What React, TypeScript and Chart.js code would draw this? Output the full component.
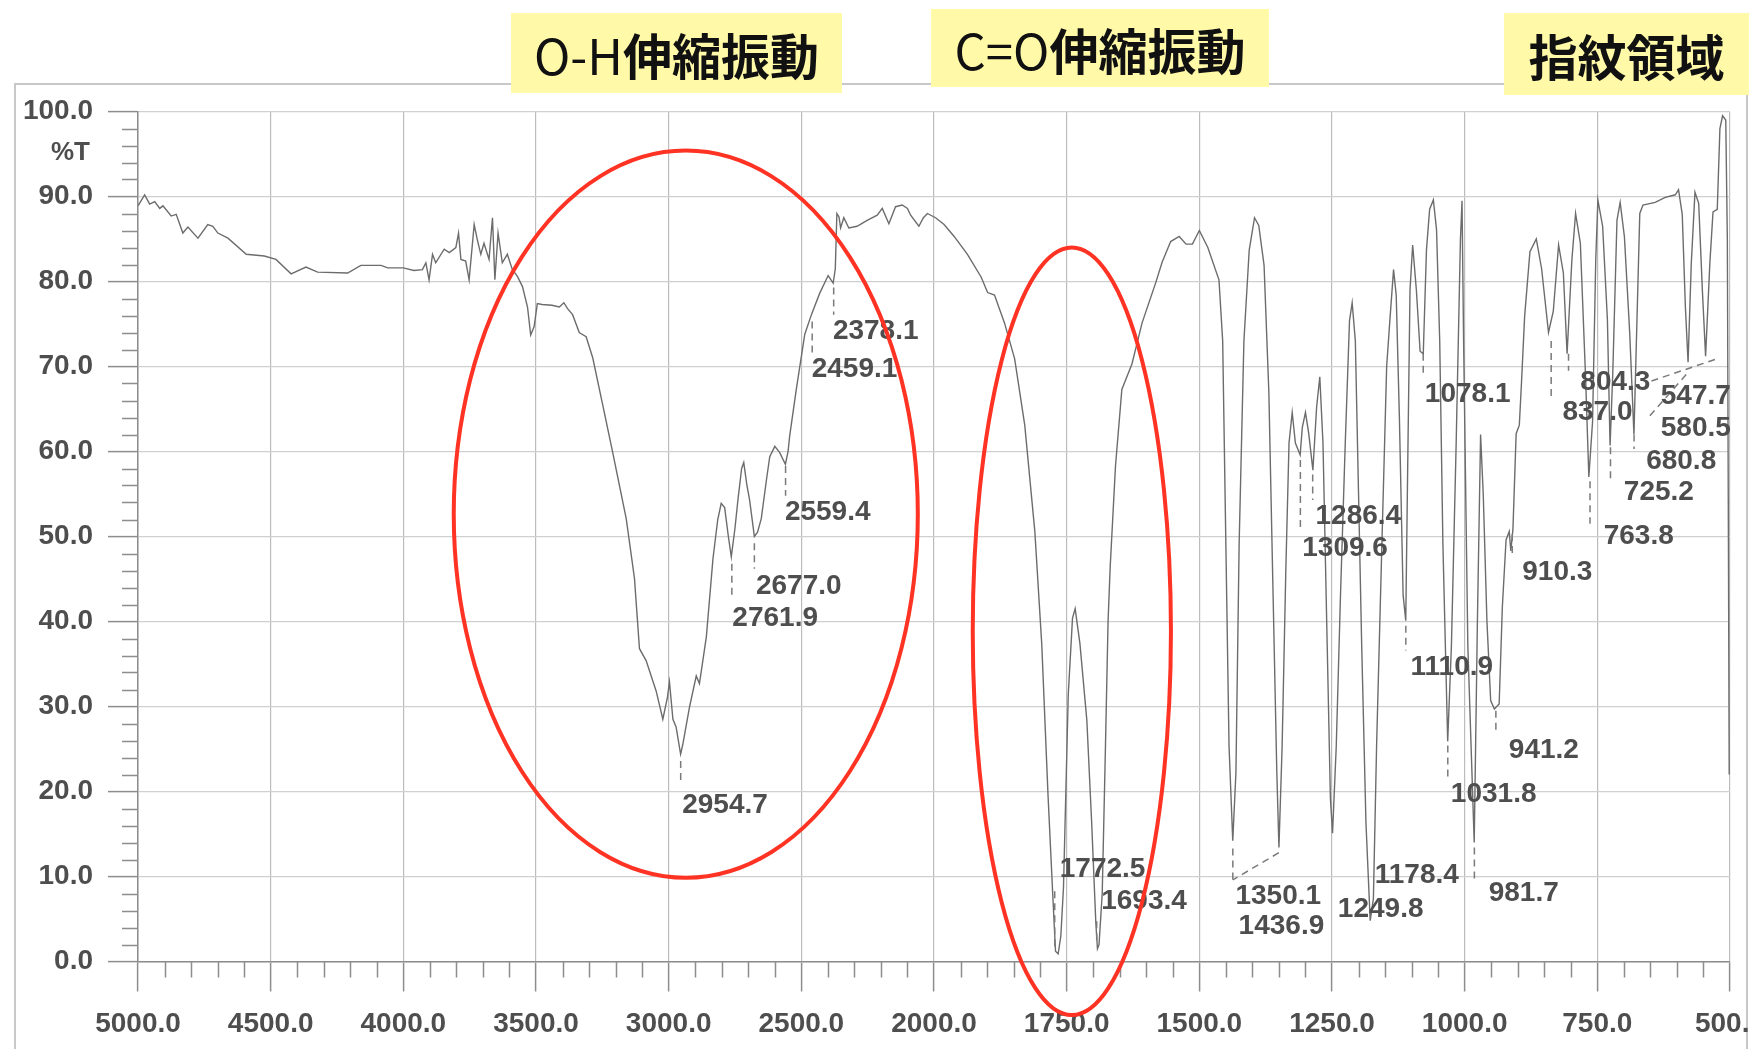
import React, { useEffect, useRef } from 'react';
import { Chart, LinearScale, registerables } from 'chart.js';

// ---------- data ----------
const wavenumbers = [
  5000, 4975, 4956, 4937, 4918, 4906, 4875, 4856, 4831, 4812, 4774, 4737, 4718, 4699, 4661, 4592, 4524, 4480, 4423, 4367,
  4323, 4210, 4160, 4084, 4059, 4000, 3960, 3928, 3915, 3903, 3890, 3878, 3846, 3827, 3802, 3792, 3783, 3765, 3752, 3733,
  3721, 3708, 3696, 3677, 3664, 3655, 3643, 3627, 3608, 3589, 3570, 3551, 3532, 3520, 3507, 3495, 3477, 3440, 3412, 3395,
  3381, 3362, 3337, 3311, 3286, 3248, 3211, 3160, 3129, 3110, 3085, 3047, 3022, 3005, 2997, 2984, 2972, 2955, 2947, 2921,
  2896, 2884, 2858, 2833, 2815, 2802, 2789, 2775, 2764, 2750, 2739, 2725, 2717, 2705, 2695, 2677, 2665, 2651, 2630, 2619,
  2600, 2582, 2560, 2550, 2544, 2519, 2487, 2462, 2431, 2399, 2380, 2372, 2366, 2358, 2352, 2340, 2321, 2290, 2252, 2214,
  2195, 2170, 2145, 2120, 2100, 2088, 2057, 2040, 2025, 1997, 1981, 1962, 1937, 1911, 1899, 1886, 1867, 1848, 1829, 1810,
  1797, 1785, 1775, 1771, 1766, 1761, 1756, 1747, 1739, 1734, 1725, 1712, 1703, 1695, 1692, 1689, 1683, 1677, 1672, 1668,
  1658, 1646, 1627, 1608, 1582, 1570, 1554, 1538, 1525, 1513, 1500, 1484, 1463, 1456, 1450, 1444, 1437, 1431, 1425, 1416,
  1406, 1396, 1388, 1378, 1369, 1361, 1354, 1350, 1344, 1337, 1331, 1325, 1319, 1310, 1306, 1300, 1294, 1286, 1279, 1273,
  1267, 1259, 1253, 1249, 1242, 1234, 1225, 1217, 1212, 1206, 1200, 1194, 1186, 1178, 1172, 1166, 1156, 1147, 1141, 1134,
  1129, 1123, 1116, 1111, 1108, 1103, 1098, 1091, 1084, 1078, 1072, 1066, 1059, 1053, 1047, 1041, 1032, 1025, 1016, 1008,
  1005, 1002, 994, 982, 976, 970, 965, 958, 951, 944, 935, 929, 922, 916, 913, 909, 903, 897, 893, 887,
  877, 865, 855, 842, 833, 823, 814, 807, 798, 791, 782, 772, 766, 759, 753, 749, 740, 731, 726, 721,
  713, 707, 699, 689, 681, 677, 670, 664, 641, 622, 603, 597, 590, 584, 579, 573, 566, 559, 552, 546,
  538, 532, 524, 519, 514, 508, 505, 503, 501.5,
];

const transmittance = [
  88.9, 90.2, 89.1, 89.4, 88.6, 88.9, 87.7, 87.9, 85.7, 86.4, 85.1, 86.7, 86.5, 85.7, 85.1, 83.2, 83.0, 82.6, 80.9, 81.7,
  81.1, 81.0, 81.9, 81.9, 81.6, 81.6, 81.3, 81.4, 82.2, 80.2, 83.2, 82.2, 83.8, 83.4, 84.0, 85.7, 82.6, 82.4, 80.2, 86.7,
  84.9, 83.2, 84.5, 82.6, 87.5, 80.2, 85.7, 82.2, 83.2, 81.4, 80.6, 79.4, 77.0, 73.7, 74.7, 77.4, 77.3, 77.2, 77.0, 77.5,
  76.8, 76.1, 74.0, 73.5, 71.0, 65.4, 59.9, 52.1, 45.1, 36.8, 35.4, 31.8, 28.5, 31.0, 32.9, 28.5, 27.6, 24.4, 25.5, 30.0,
  33.6, 32.7, 38.2, 47.4, 52.0, 53.9, 53.4, 50.0, 47.6, 51.0, 54.3, 58.0, 58.7, 56.0, 54.3, 50.0, 50.5, 52.1, 57.0, 59.4,
  60.6, 59.9, 58.5, 60.0, 61.8, 67.3, 73.8, 76.1, 78.6, 80.7, 79.8, 81.5, 88.0, 87.6, 86.3, 87.5, 86.3, 86.5, 87.2, 87.8,
  88.6, 86.8, 88.8, 89.0, 88.6, 87.8, 86.5, 87.5, 88.0, 87.5, 86.7, 85.3, 83.2, 80.5, 78.7, 78.4, 75.1, 70.9, 63.1, 50.6,
  37.4, 19.4, 6.3, 1.2, 0.9, 3.0, 8.7, 31.4, 40.4, 41.5, 37.4, 28.4, 16.5, 4.5, 1.5, 2.0, 8.0, 25.0, 40.0, 46.4,
  58.3, 67.3, 70.3, 75.1, 79.9, 82.3, 84.7, 85.3, 84.4, 84.4, 86.0, 84.0, 80.2, 73.0, 49.1, 25.3, 14.2, 22.3, 49.1, 73.0,
  83.7, 87.5, 86.6, 81.9, 67.0, 43.1, 22.3, 13.4, 25.3, 46.1, 61.0, 64.6, 61.0, 59.6, 62.8, 64.6, 62.2, 57.8, 65.2, 68.8,
  61.0, 37.1, 19.2, 15.1, 25.3, 43.1, 61.0, 75.4, 77.5, 73.0, 55.1, 37.1, 16.3, 4.8, 7.4, 25.3, 49.1, 70.0, 75.4, 81.4,
  78.4, 64.0, 43.1, 40.1, 55.1, 79.0, 84.3, 79.0, 71.8, 71.5, 83.7, 88.5, 89.6, 86.1, 73.0, 49.1, 25.9, 37.1, 61.0, 84.9,
  89.5, 73.0, 37.1, 14.0, 40.0, 62.0, 55.0, 40.0, 30.7, 29.7, 30.3, 41.7, 49.6, 50.6, 48.3, 50.9, 62.1, 63.1, 68.0, 75.9,
  83.5, 85.0, 81.5, 74.0, 76.5, 84.3, 81.0, 71.5, 82.5, 88.0, 84.5, 68.5, 57.0, 63.5, 82.5, 89.6, 86.5, 75.5, 60.7, 69.0,
  87.2, 89.3, 85.3, 74.0, 62.0, 71.5, 88.0, 89.0, 89.3, 89.9, 90.2, 90.8, 87.9, 76.9, 70.5, 82.1, 90.5, 89.2, 78.9, 71.2,
  82.1, 88.2, 88.5, 98.0, 99.5, 99.0, 85.0, 50.0, 22.0,
];

const xTickValues = [5000, 4500, 4000, 3500, 3000, 2500, 2000, 1750, 1500, 1250, 1000, 750, 500];
const yMin = 0;
const yMax = 100;
const yStep = 10;

const peakValues = [
  2954.7, 2761.9, 2677.0, 2559.4, 2459.1, 2378.1, 1772.5, 1693.4, 1436.9, 1350.1, 1309.6, 1286.4, 1249.8, 1178.4,
  1110.9, 1078.1, 1031.8, 981.7, 941.2, 910.3, 837.0, 804.3, 763.8, 725.2, 680.8, 580.5, 547.7,
];

const regionTitles = [
  ['O-H', '伸縮振動'],
  ['C=O', '伸縮振動'],
  ['', '指紋領域'],
];

// ---------- layout (positions, not data) ----------
// label anchor: text left edge (wavenumber), text centre (%T); leader: two points [wn, %T]
const peakLabelLayout: { tx: number; ty: number; lead: number[][] | null }[] = [
  { tx: 2949, ty: 18.4, lead: [[2954.7, 23.6], [2954.7, 20.8]] },
  { tx: 2760, ty: 40.4, lead: [[2761.9, 46.8], [2761.9, 42.6]] },
  { tx: 2671, ty: 44.2, lead: [[2677.0, 49.2], [2677.0, 46.2]] },
  { tx: 2562, ty: 52.8, lead: [[2559.4, 58.3], [2559.4, 54.8]] },
  { tx: 2461, ty: 69.7, lead: [[2459.1, 75.3], [2459.1, 71.6]] },
  { tx: 2381, ty: 74.1, lead: [[2378.1, 79.3], [2378.1, 76.1]] },
  { tx: 1763, ty: 10.9, lead: [[1772.5, 1.8], [1772.5, 8.8]] },
  { tx: 1685, ty: 7.1, lead: [[1693.4, 2.5], [1693.4, 4.8]] },
  { tx: 1426, ty: 4.2, lead: [[1436.9, 13.3], [1436.9, 9.5]] },
  { tx: 1432, ty: 7.7, lead: [[1350.1, 12.8], [1436.9, 9.6]] },
  { tx: 1306, ty: 48.6, lead: [[1309.6, 59.0], [1309.6, 50.6]] },
  { tx: 1281, ty: 52.4, lead: [[1286.4, 57.3], [1286.4, 54.3]] },
  { tx: 1239, ty: 6.2, lead: null },
  { tx: 1169.5, ty: 10.1, lead: null },
  { tx: 1102, ty: 34.6, lead: [[1110.9, 39.5], [1110.9, 36.6]] },
  { tx: 1075, ty: 66.7, lead: [[1078.1, 71.5], [1078.1, 68.8]] },
  { tx: 1026, ty: 19.7, lead: [[1031.8, 25.4], [1031.8, 21.7]] },
  { tx: 954.7, ty: 8.0, lead: [[981.7, 13.4], [981.7, 9.5]] },
  { tx: 916.7, ty: 24.8, lead: [[941.2, 29.5], [941.2, 26.8]] },
  { tx: 891.5, ty: 45.8, lead: [[910.3, 50.3], [910.3, 47.5]] },
  { tx: 815.8, ty: 64.6, lead: [[837.0, 73.0], [837.0, 66.0]] },
  { tx: 782, ty: 68.1, lead: [[804.3, 71.5], [804.3, 69.5]] },
  { tx: 738, ty: 50.0, lead: [[763.8, 56.5], [763.8, 51.5]] },
  { tx: 700, ty: 55.2, lead: [[725.2, 60.5], [725.2, 56.8]] },
  { tx: 658, ty: 58.9, lead: [[680.8, 62.0], [680.8, 60.3]] },
  { tx: 630.5, ty: 62.7, lead: [[651, 64.2], [580.5, 69.2]] },
  { tx: 630.5, ty: 66.5, lead: [[648, 68.3], [520, 71.0]] },
];

// ellipses in data coordinates: wavenumber span and %T span
const regionEllipses = [
  { wnLeft: 3810, wnRight: 2061, tTop: 95.4, tBottom: 9.85 },
  { wnLeft: 1927, wnRight: 1553.5, tTop: 84.0, tBottom: -6.3 },
];

const regionBoxLayout = [
  { left: 511, top: 13, width: 331, height: 80 },
  { left: 931, top: 9, width: 338, height: 78 },
  { left: 1504, top: 13, width: 245, height: 82 },
];

const W = 1749;
const H = 1049;
const PLOT_LEFT = 138;
const PLOT_RIGHT = 1730;
const PLOT_TOP = 111.5;
const PLOT_BOTTOM = 961.5;

const LABEL_FONT = 'bold 28px "Liberation Sans", Arial, sans-serif';
const LABEL_COLOR = '#4e4e4e';

// ---------- piecewise IR wavenumber axis ----------
function toDecimal(wn: number) {
  const pos = wn >= 2000 ? (5000 - wn) / 500 : 6 + (2000 - wn) / 250;
  return pos / 12;
}
function fromDecimal(d: number) {
  const pos = d * 12;
  return pos <= 6 ? 5000 - pos * 500 : 2000 - (pos - 6) * 250;
}

class WavenumberScale extends LinearScale {
  static id = 'wavenumber';
  static defaults = {};
  buildTicks() {
    return xTickValues.map((value) => ({ value }));
  }
  getPixelForValue(value: number) {
    return this.getPixelForDecimal(toDecimal(value));
  }
  getValueForPixel(pixel: number) {
    return fromDecimal(this.getDecimalForPixel(pixel));
  }
}

Chart.register(...registerables, WavenumberScale as any);

const irPlugin = {
  id: 'irAnnotations',
  afterDraw(chart: any) {
    const { ctx, chartArea } = chart;
    const xs = chart.scales.x;
    const ys = chart.scales.y;
    const px = (v: number) => xs.getPixelForValue(v);
    const py = (v: number) => ys.getPixelForValue(v);
    ctx.save();

    // minor ticks
    ctx.strokeStyle = '#8d8d8d';
    ctx.lineWidth = 1.5;
    ctx.beginPath();
    for (let i = 0; i < xTickValues.length - 1; i++) {
      const a = xTickValues[i];
      const b = xTickValues[i + 1];
      for (let k = 1; k < 5; k++) {
        const x = Math.round(px(a + ((b - a) * k) / 5)) + 0.5;
        ctx.moveTo(x, chartArea.bottom);
        ctx.lineTo(x, chartArea.bottom + 16);
      }
    }
    for (let v = yMin; v < yMax; v += yStep) {
      for (let k = 1; k < 5; k++) {
        const y = Math.round(py(v + (yStep * k) / 5)) + 0.5;
        ctx.moveTo(chartArea.left - 16, y);
        ctx.lineTo(chartArea.left, y);
      }
    }
    ctx.stroke();

    // %T unit
    ctx.font = 'bold 26px "Liberation Sans", Arial, sans-serif';
    ctx.fillStyle = LABEL_COLOR;
    ctx.textAlign = 'right';
    ctx.textBaseline = 'middle';
    ctx.fillText('%T', chartArea.left - 48, py(95.1));

    // peak leaders
    ctx.strokeStyle = '#7a7a7a';
    ctx.lineWidth = 1.5;
    ctx.setLineDash([7, 5]);
    peakLabelLayout.forEach((l) => {
      if (!l.lead) return;
      ctx.beginPath();
      ctx.moveTo(px(l.lead[0][0]), py(l.lead[0][1]));
      ctx.lineTo(px(l.lead[1][0]), py(l.lead[1][1]));
      ctx.stroke();
    });
    ctx.setLineDash([]);

    // peak labels
    ctx.font = LABEL_FONT;
    ctx.fillStyle = LABEL_COLOR;
    ctx.textAlign = 'left';
    ctx.textBaseline = 'middle';
    peakValues.forEach((v, i) => {
      const l = peakLabelLayout[i];
      ctx.fillText(v.toFixed(1), px(l.tx), py(l.ty));
    });

    // red ellipses
    ctx.strokeStyle = '#ff3324';
    ctx.lineWidth = 4;
    regionEllipses.forEach((e) => {
      const x1 = px(e.wnLeft);
      const x2 = px(e.wnRight);
      const y1 = py(e.tTop);
      const y2 = py(e.tBottom);
      ctx.beginPath();
      ctx.ellipse((x1 + x2) / 2, (y1 + y2) / 2, Math.abs(x2 - x1) / 2, Math.abs(y2 - y1) / 2, 0, 0, Math.PI * 2);
      ctx.stroke();
    });
    ctx.restore();
  },
};

export default function App() {
  const canvasRef = useRef<HTMLCanvasElement | null>(null);

  useEffect(() => {
    const canvas = canvasRef.current;
    if (!canvas) return;
    const points = wavenumbers.map((w, i) => ({ x: w, y: transmittance[i] }));
    const chart = new Chart(canvas, {
      type: 'line',
      data: {
        datasets: [
          {
            data: points,
            borderColor: '#6c6c6c',
            borderWidth: 1.4,
            pointRadius: 0,
            tension: 0,
            fill: false,
          },
        ],
      },
      options: {
        animation: false,
        responsive: false,
        devicePixelRatio: 1,
        parsing: true,
        layout: { padding: { left: 0, top: PLOT_TOP, right: W - PLOT_RIGHT, bottom: 0 } },
        plugins: { legend: { display: false }, tooltip: { enabled: false }, title: { display: false } },
        events: [],
        scales: {
          x: {
            type: 'wavenumber' as any,
            min: 500,
            max: 5000,
            grid: { color: '#bcbcbc', lineWidth: 1.2, tickLength: 30, tickColor: '#8d8d8d', tickWidth: 1.5 },
            border: { display: true, color: '#8d8d8d', width: 1.5 },
            ticks: {
              autoSkip: false,
              maxRotation: 0,
              padding: 16,
              color: LABEL_COLOR,
              font: { family: '"Liberation Sans", Arial, sans-serif', size: 28, weight: 'bold' },
              callback: (v: any) => Number(v).toFixed(1),
            },
            afterFit: (s: any) => {
              s.height = H - PLOT_BOTTOM;
              s.paddingLeft = 0;
              s.paddingRight = 0;
            },
          } as any,
          y: {
            type: 'linear',
            min: yMin,
            max: yMax,
            grid: { color: '#d0d0d0', lineWidth: 1.2, tickLength: 30, tickColor: '#8d8d8d', tickWidth: 1.5 },
            border: { display: true, color: '#8d8d8d', width: 1.5 },
            ticks: {
              stepSize: yStep,
              padding: 15,
              color: LABEL_COLOR,
              font: { family: '"Liberation Sans", Arial, sans-serif', size: 28, weight: 'bold' },
              callback: (v: any) => Number(v).toFixed(1),
            },
            afterFit: (s: any) => {
              s.width = PLOT_LEFT;
              s.paddingTop = 0;
              s.paddingBottom = 0;
            },
          },
        },
      },
      plugins: [irPlugin],
    });
    return () => chart.destroy();
  }, []);

  return (
    <div style={{ position: 'fixed', left: 0, top: 0, width: W, height: H, overflow: 'hidden', background: '#ffffff' }}>
      <div
        style={{
          position: 'absolute',
          left: 14,
          top: 83,
          width: 1734,
          height: 1100,
          border: '2px solid #c8c8c8',
          boxSizing: 'border-box',
        }}
      />
      <canvas ref={canvasRef} width={W} height={H} style={{ position: 'absolute', left: 0, top: 0 }} />
      {regionTitles.map((t, i) => {
        const b = regionBoxLayout[i];
        return (
          <div
            key={i}
            style={{
              position: 'absolute',
              left: b.left,
              top: b.top,
              width: b.width,
              height: b.height,
              background: '#fff9a8',
              display: 'flex',
              alignItems: 'center',
              justifyContent: 'center',
              fontFamily: '"Noto Sans CJK JP", "Noto Sans", sans-serif',
              fontSize: 49,
              color: '#111111',
              whiteSpace: 'nowrap',
              lineHeight: 1,
            }}
          >
            {t[0] ? <span style={{ fontWeight: 400 }}>{t[0]}</span> : null}
            <span style={{ fontWeight: 700 }}>{t[1]}</span>
          </div>
        );
      })}
    </div>
  );
}
